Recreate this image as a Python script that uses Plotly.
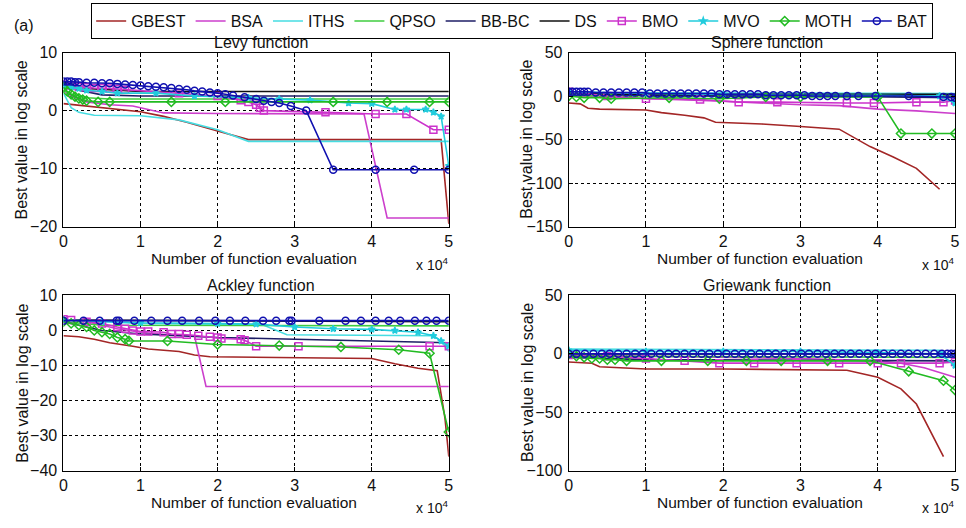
import plotly.graph_objects as go

W, H = 966, 528

NAMES = ["GBEST", "BSA", "ITHS", "QPSO", "BB-BC", "DS", "BMO", "MVO", "MOTH", "BAT"]
COLORS = ["#A32626", "#CC3FCC", "#46DDE2", "#3FCC3F", "#1E1E66", "#111111",
          "#CC33CC", "#22CCDD", "#22BB22", "#1010B0"]
SYMBOLS = [None, None, None, None, None, None, "square-open", "star", "diamond-open", "circle-open"]

# ---------------- Levy function (x in units of 1e4 evaluations) ----------------
LEVY_GBEST = [(0, 1.2), (0.3, 0.8), (0.6, 0.3), (1.0, -0.2), (1.3, -1.0), (1.6, -2.0), (2.0, -3.5),
              (2.4, -5.0), (4.5, -5.0), (4.9, -5.0), (5.0, -19.5)]
LEVY_BSA = [(0, 3.5), (0.1, 2.5), (0.3, 1.5), (0.6, 1.0), (0.9, 0.8), (1.3, -0.4), (2.0, -0.5),
            (3.0, -0.6), (3.9, -0.6), (4.2, -18.5), (5.0, -18.5)]
LEVY_ITHS = [(0, 3.0), (0.1, 0.5), (0.2, -0.3), (0.4, -0.8), (1.0, -0.9), (1.2, -1.2), (1.5, -1.6),
             (2.0, -3.3), (2.4, -5.3), (5.0, -5.3)]
LEVY_QPSO = [(0, 3.5), (0.1, 2.8), (0.3, 2.2), (0.6, 2.0), (5.0, 2.0)]
LEVY_BBBC = [(0, 4.8), (0.2, 3.5), (0.5, 2.7), (1.0, 2.5), (5.0, 2.5)]
LEVY_DS = [(0, 5.0), (0.3, 3.8), (1.0, 3.3), (5.0, 3.3)]
LEVY_BMO = [(0, 4.5), (0.1, 4.3), (0.2, 4.1), (0.3, 4.0), (0.4, 3.9), (0.5, 3.9), (0.6, 3.8),
            (0.7, 3.7), (0.8, 3.6), (1.5, 3.0), (2.0, 2.5), (2.3, 1.8), (2.4, 1.5), (2.5, 1.0),
            (2.55, 0.5), (2.6, 0.0), (3.4, -0.3), (4.05, -0.6), (4.45, -0.6), (4.8, -3.3), (5.0, -3.3)]
LEVY_MVO = [(0, 4.2), (0.1, 4.0), (0.2, 3.8), (0.3, 3.5), (0.5, 3.3), (0.7, 3.0), (1.2, 3.0),
            (1.7, 2.5), (2.4, 2.2), (2.8, 2.0), (3.2, 1.8), (3.7, 1.3), (4.0, 1.2), (4.3, 0.2),
            (4.45, 0.2), (4.7, 0.2), (4.8, -0.3), (4.9, -1.0), (5.0, -9.5)]
LEVY_MOTH = [(0, 4.0), (0.05, 3.3), (0.1, 2.8), (0.15, 2.4), (0.2, 2.1), (0.25, 1.9), (0.3, 1.7),
             (0.45, 1.5), (0.6, 1.5), (1.4, 1.5), (2.1, 1.5), (3.5, 1.5), (4.2, 1.5), (4.75, 1.5), (5.0, 1.5)]
LEVY_BAT = [(0, 5.0), (0.05, 5.0), (0.1, 5.0), (0.15, 4.9), (0.2, 4.9), (0.3, 4.8), (0.4, 4.8),
            (0.5, 4.7), (0.6, 4.7), (0.7, 4.6), (0.8, 4.5), (0.9, 4.4), (1.0, 4.3), (1.1, 4.2),
            (1.2, 4.1), (1.3, 4.0), (1.4, 3.9), (1.5, 3.7), (1.6, 3.6), (1.7, 3.4), (1.8, 3.3),
            (1.9, 3.1), (2.0, 3.0), (2.1, 2.8), (2.2, 2.6), (2.35, 2.3), (2.5, 2.0), (2.6, 1.7),
            (2.7, 1.5), (2.8, 1.3), (2.95, 0.8), (3.15, 0.0), (3.5, -10.2), (4.05, -10.2),
            (4.55, -10.2), (5.0, -10.2)]

# ---------------- Sphere function ----------------
SPH_GBEST = [(0, -8), (0.15, -9), (0.25, -14), (0.4, -15), (1.0, -16), (1.2, -19), (1.5, -22),
             (1.75, -25), (1.9, -30), (2.5, -32), (3.0, -35), (3.5, -38), (3.9, -58), (4.2, -70),
             (4.5, -83), (4.8, -107)]
SPH_BSA = [(0, 0), (1.0, -3), (2.0, -6), (3.0, -10), (3.5, -11), (4.0, -15), (4.5, -17), (5.0, -20)]
SPH_ITHS = [(0, 4), (5.0, 3)]
SPH_QPSO = [(0, 1), (0.5, 0), (5.0, 0)]
SPH_BBBC = [(0, 3), (1.0, 1), (3.0, 0), (4.5, -2), (5.0, -2)]
SPH_DS = [(0, 4), (0.5, 2), (5.0, 2)]
SPH_BMO = [(0, 5), (0.5, 0), (1.0, -3), (1.7, -4), (2.2, -7), (2.7, -7), (3.6, -8), (3.95, -8),
           (4.5, -7), (4.85, -7), (5.0, -5)]
SPH_MVO = [(0, 5), (1.0, 3), (2.0, 2), (3.0, 1), (4.0, 1), (4.8, 0), (5.0, -8)]
SPH_MOTH = [(0, 0), (0.1, -1), (0.2, -2), (0.4, -2), (0.55, -3), (1.3, -2), (1.95, -3), (2.55, -1),
            (3.0, -1), (4.0, -1), (4.3, -43), (4.7, -43), (5.0, -43)]
SPH_BAT = [(0, 5), (0.05, 5), (0.1, 5), (0.15, 5), (0.2, 5), (0.25, 5), (0.35, 4), (0.45, 4),
           (0.55, 4), (0.65, 4), (0.75, 4), (0.85, 4), (0.95, 4), (1.05, 3), (1.15, 3), (1.25, 3),
           (1.35, 3), (1.45, 3), (1.55, 3), (1.65, 3), (1.75, 3), (1.85, 3), (1.95, 2), (2.05, 2),
           (2.15, 2), (2.25, 2), (2.35, 2), (2.45, 2), (2.55, 1), (2.65, 1), (2.75, 1), (2.85, 1),
           (2.95, 1), (3.05, 1), (3.15, 0), (3.25, 0), (3.35, 0), (3.45, 0), (3.6, 0), (3.75, 0),
           (3.97, 0), (4.4, 0), (4.85, -1), (4.95, -1), (5.0, -2)]

# ---------------- Ackley function ----------------
ACK_GBEST = [(0, -1.5), (0.2, -1.8), (0.4, -2.5), (0.6, -3.5), (0.9, -4.5), (1.1, -5.3), (1.5, -6.0),
             (1.7, -7.0), (1.9, -7.5), (2.5, -7.7), (3.5, -7.9), (4.0, -8.0), (4.3, -9.5),
             (4.6, -10.8), (4.85, -11.5), (4.95, -25), (5.0, -36)]
ACK_BSA = [(0, 3.2), (0.3, 2.5), (0.7, 0.5), (1.0, -0.5), (1.4, -1.3), (1.7, -1.5), (1.85, -16), (5.0, -16)]
ACK_ITHS = [(0, 3), (1.0, 2), (2.0, 1.8), (2.6, 1.5), (2.9, -1.2), (4.8, -1.5), (4.9, -3), (5.0, -6)]
ACK_QPSO = [(0, 2.5), (0.5, 1.5), (5.0, 1.3)]
ACK_BBBC = [(0, 2.5), (0.5, 0), (1.0, -1), (2.0, -2), (3.0, -2.5), (4.0, -3), (5.0, -3.5)]
ACK_DS = [(0, 3), (5.0, 2.5)]
ACK_BMO = [(0, 3.2), (0.1, 3), (0.3, 2.5), (0.5, 2), (0.7, 1), (0.8, 0.5), (0.9, 0), (1.0, -0.3),
           (1.1, -0.3), (1.3, -0.5), (1.4, -1), (1.5, -1), (1.6, -1.2), (1.75, -1.5), (1.9, -1.8),
           (2.0, -2), (2.05, -2.3), (2.3, -2.5), (2.35, -2.8), (2.5, -4.5), (3.05, -4.5),
           (4.75, -4.5), (5.0, -4.5)]
ACK_MVO = [(0, 3), (0.5, 2.5), (1.0, 2.2), (2.0, 2), (2.5, 1.8), (3.0, 1), (3.5, 0.5), (4.0, 0.3),
           (4.3, 0), (4.6, -0.5), (4.8, -1.5), (4.9, -3), (5.0, -4.5)]
ACK_MOTH = [(0, 2.5), (0.1, 2), (0.2, 1.5), (0.3, 1), (0.4, 0), (0.5, -0.5), (0.6, -1), (0.7, -2),
            (0.8, -2.5), (0.85, -3), (1.35, -3), (2.0, -4), (2.8, -4.3), (3.6, -4.7), (4.35, -5.5),
            (4.75, -6.5), (5.0, -29)]
ACK_BAT = [(0, 2.8), (0.26, 2.8), (0.47, 2.8), (0.69, 2.8), (0.72, 2.8), (0.92, 2.8), (1.14, 2.8),
           (1.35, 2.8), (1.54, 2.8), (1.76, 2.8), (1.97, 2.8), (2.16, 2.8), (2.36, 2.8), (2.59, 2.8),
           (2.76, 2.8), (2.93, 2.8), (2.96, 2.8), (3.32, 2.8), (3.66, 2.8), (3.86, 2.8), (4.05, 2.8),
           (4.22, 2.8), (4.37, 2.8), (4.56, 2.8), (4.71, 2.8), (4.84, 2.8), (5.0, 2.8)]

# ---------------- Griewank function ----------------
GRI_GBEST = [(0, -7), (0.3, -8), (0.4, -11), (0.8, -12), (1.0, -13), (2.0, -13), (3.0, -14),
             (3.6, -14), (3.8, -17), (4.0, -20), (4.3, -30), (4.5, -43), (4.85, -88)]
GRI_BSA = [(0, -1), (1.0, -2), (2.0, -3), (3.0, -4), (4.0, -6), (4.3, -8), (4.6, -12), (5.0, -20)]
GRI_ITHS = [(0, 4), (4.8, 3), (5.0, -3)]
GRI_QPSO = [(0, -2), (5.0, -3)]
GRI_BBBC = [(0, -3), (1.0, -5), (5.0, -6)]
GRI_DS = [(0, 0), (5.0, 0)]
GRI_BMO = [(0, -1), (0.5, -2), (1.0, -4), (1.5, -6), (1.95, -8), (2.4, -8), (2.95, -8), (3.5, -8),
           (4.0, -8), (4.3, -8), (4.8, -8), (5.0, -7)]
GRI_MVO = [(0, 3), (1.0, 2), (2.0, 2), (3.0, 2), (4.0, 1), (4.8, 0), (5.0, -10)]
GRI_MOTH = [(0, 0), (0.1, -2), (0.2, -3), (0.3, -4), (0.4, -4), (0.5, -5), (0.6, -5), (0.75, -6),
            (1.2, -6), (1.8, -6), (2.3, -6), (2.75, -6), (3.35, -6), (3.9, -6), (4.4, -15),
            (4.85, -23), (5.0, -31)]
GRI_BAT = [(0, 0), (0.1, 0), (0.21, 0), (0.32, 0), (0.43, 0), (0.53, 0), (0.64, 0), (0.75, 0),
           (0.86, 0), (0.96, 0), (1.07, 0), (1.18, 0), (1.29, 0), (1.39, 0), (1.5, 0), (1.61, 0),
           (1.72, 0), (1.82, 0), (1.93, 0), (2.04, 0), (2.15, 0), (2.25, 0), (2.36, 0), (2.47, 0),
           (2.58, 0), (2.68, 0), (2.79, 0), (2.9, 0), (3.01, 0), (3.11, 0), (3.22, 0), (3.33, 0),
           (3.44, 0), (3.54, 0), (3.65, 0), (3.76, 0), (3.87, 0), (3.97, 0), (4.08, 0), (4.19, 0),
           (4.3, 0), (4.4, 0), (4.51, 0), (4.62, 0), (4.73, 0), (4.83, 0), (4.9, 0), (4.95, 0), (5.0, 0)]

PANELS = [
    ("Levy function", [LEVY_GBEST, LEVY_BSA, LEVY_ITHS, LEVY_QPSO, LEVY_BBBC, LEVY_DS,
                       LEVY_BMO, LEVY_MVO, LEVY_MOTH, LEVY_BAT], [-20, -10, 0, 10]),
    ("Sphere function", [SPH_GBEST, SPH_BSA, SPH_ITHS, SPH_QPSO, SPH_BBBC, SPH_DS,
                         SPH_BMO, SPH_MVO, SPH_MOTH, SPH_BAT], [-150, -100, -50, 0, 50]),
    ("Ackley function", [ACK_GBEST, ACK_BSA, ACK_ITHS, ACK_QPSO, ACK_BBBC, ACK_DS,
                         ACK_BMO, ACK_MVO, ACK_MOTH, ACK_BAT], [-40, -30, -20, -10, 0, 10]),
    ("Griewank function", [GRI_GBEST, GRI_BSA, GRI_ITHS, GRI_QPSO, GRI_BBBC, GRI_DS,
                           GRI_BMO, GRI_MVO, GRI_MOTH, GRI_BAT], [-100, -50, 0, 50]),
]
X_TICKS = [0, 1, 2, 3, 4, 5]

# panel pixel boxes (left, right, top, bottom)
BOXES = [(60, 449, 46, 226), (570, 960, 46, 226), (60, 449, 297, 478), (570, 960, 297, 478)]

FONT = "Liberation Sans, Arial, sans-serif"
fig = go.Figure()
annotations = []

for p, (title, series, yt) in enumerate(PANELS):
    xa = "x" if p == 0 else f"x{p+1}"
    ya = "y" if p == 0 else f"y{p+1}"
    for i, pts in enumerate(series):
        xs = [q[0] for q in pts]
        ys = [q[1] for q in pts]
        sym = SYMBOLS[i]
        kw = dict(mode="lines")
        if sym:
            kw = dict(mode="lines+markers",
                      marker=dict(symbol=sym, size=7 if sym != "star" else 5, color=COLORS[i],
                                  line=dict(width=1.5, color=COLORS[i])))
        fig.add_trace(go.Scatter(x=xs, y=ys, name=NAMES[i], xaxis=xa, yaxis=ya,
                                 line=dict(color=COLORS[i], width=1.6),
                                 legendgroup=NAMES[i], showlegend=(p == 0), **kw))
    l, r, t, b = BOXES[p]
    axx = dict(domain=[l / W, r / W], range=[0, 5], tickvals=X_TICKS, anchor=ya,
               showgrid=True, gridcolor="#000000", griddash="dot", gridwidth=1,
               showline=True, mirror="ticks", linecolor="#000000", linewidth=1,
               ticks="inside", ticklen=4, tickcolor="#000000", zeroline=False,
               tickfont=dict(size=16, color="#111111", family=FONT), ticklabelstandoff=0)
    axy = dict(domain=[1 - b / H, 1 - t / H], range=[yt[0], yt[-1]], tickvals=yt, anchor=xa,
               showgrid=True, gridcolor="#000000", griddash="dot", gridwidth=1,
               showline=True, mirror="ticks", linecolor="#000000", linewidth=1,
               ticks="inside", ticklen=4, tickcolor="#000000", zeroline=False,
               tickfont=dict(size=16, color="#111111", family=FONT), ticklabelstandoff=2)
    fig.layout[("xaxis" if p == 0 else f"xaxis{p+1}")] = axx
    fig.layout[("yaxis" if p == 0 else f"yaxis{p+1}")] = axy
    cx = (l + r) / 2
    annotations.append(dict(text=title, x=(cx + 5) / W, y=1 - (t - 10) / H, xref="paper", yref="paper",
                            showarrow=False, xanchor="center", yanchor="middle",
                            font=dict(size=16, color="#111111", family=FONT)))
    annotations.append(dict(text="Number of function evaluation", x=(cx - 2) / W, y=1 - (b + 33) / H,
                            xref="paper", yref="paper", showarrow=False, xanchor="center",
                            yanchor="middle", font=dict(size=15.5, color="#111111", family=FONT)))
    annotations.append(dict(text="x 10<sup>4</sup>", x=(r - 35) / W, y=1 - (b + 38) / H,
                            xref="paper", yref="paper", showarrow=False, xanchor="left",
                            yanchor="middle", font=dict(size=14, color="#111111", family=FONT)))
    annotations.append(dict(text="Best value in log scale", x=(l - 42) / W, y=1 - ((t + b) / 2) / H,
                            xref="paper", yref="paper", showarrow=False, textangle=-90,
                            xanchor="center", yanchor="middle",
                            font=dict(size=16, color="#111111", family=FONT)))

annotations.append(dict(text="(a)", x=8 / W, y=1 - 18 / H, xref="paper", yref="paper",
                        showarrow=False, xanchor="left", yanchor="middle",
                        font=dict(size=16, color="#111111", family=FONT)))

fig.update_layout(
    width=W, height=H, margin=dict(l=0, r=0, t=0, b=0),
    paper_bgcolor="white", plot_bgcolor="white",
    annotations=annotations,
    legend=dict(orientation="h", x=0.531, xanchor="center", y=1 + 5 / H, yanchor="top",
                bordercolor="#000000", borderwidth=1, bgcolor="white",
                font=dict(size=16, color="#111111", family=FONT), itemwidth=30,
                tracegroupgap=0),
    font=dict(family=FONT),
)

fig.write_html("out.html")
